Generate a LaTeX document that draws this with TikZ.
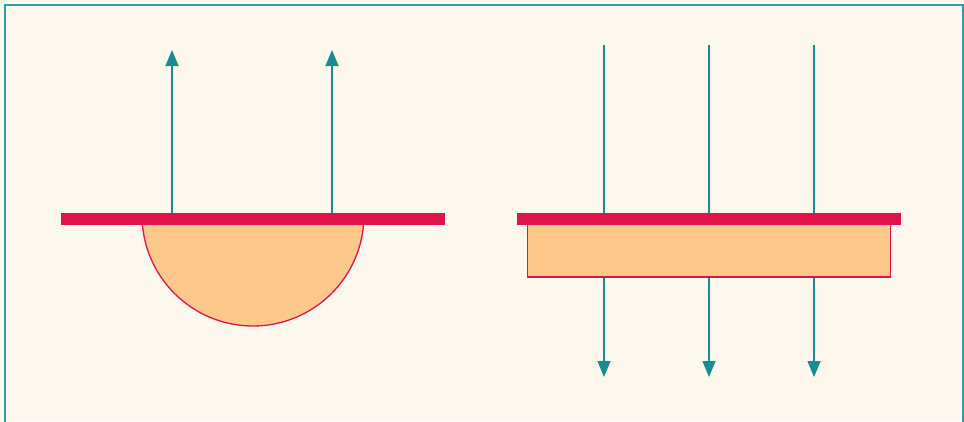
\documentclass[tikz,border=0pt]{standalone}
\usetikzlibrary{arrows.meta}
\definecolor{Cream}{HTML}{FCF8EE}
\definecolor{Frame}{HTML}{2A9FA6}
\definecolor{Teal}{HTML}{168C94}
\definecolor{Crimson}{HTML}{E0134A}
\definecolor{Peach}{HTML}{FDC98A}
\tikzset{
  plate/.style={fill=Crimson, draw=none},
  lens/.style={fill=Peach, draw=Crimson, line width=1.3pt},
  ray/.style={draw=Teal, line width=1.2pt, -{Triangle[length=16pt,width=13pt]}}
}
\begin{document}
\begin{tikzpicture}[x=1pt,y=-1pt]
\useasboundingbox (0,0) rectangle (964,421);
\clip (0,0) rectangle (964,421);
\fill[Cream] (0,0) rectangle (964,421);
\draw[Frame, line width=1.6pt] (4.8,4.8) rectangle (963,440);

% left: half disc under the plate, rays going up
\path[lens] (142,215) arc[start angle=180, end angle=0, x radius=111, y radius=111] -- cycle;
\coordinate (l1) at (172,213);
\coordinate (l2) at (332,213);
\coordinate (t1) at (172,50);
\coordinate (t2) at (332,50);
\draw[ray] (l1) -- (t1);
\draw[ray] (l2) -- (t2);
\fill[plate] (61,213) rectangle (445,225);

% right: slab under the plate, rays going down through it
\foreach \x [count=\i] in {604,709,814}{
  \coordinate (s\i) at (\x,45);
  \coordinate (e\i) at (\x,377);
  \draw[ray] (s\i) -- (e\i);
}
\path[lens] (527.5,224) rectangle (890.5,277);
\fill[plate] (517,213) rectangle (901,225);
\end{tikzpicture}
\end{document}
